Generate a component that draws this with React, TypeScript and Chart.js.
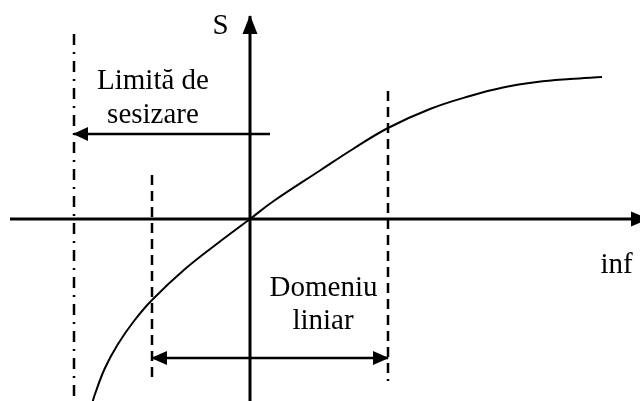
import React, { useEffect, useRef } from "react";
import { Chart, registerables } from "chart.js";

Chart.register(...registerables);

// Sensor characteristic S = f(inf), drawn in a coordinate system whose origin is the axes crossing
const curveX = [-15.8, -15.5, -14.5, -13.2, -11.6, -9.8, -6.5, -3.2, 0, 2.3, 7.0, 10.3, 13.8, 18.0, 22.0, 25.3, 28.7, 32.0, 35.2];
const curveY = [-18.5, -17.5, -14.9, -12.5, -10.2, -8.1, -5.0, -2.4, 0, 1.75, 4.85, 7.0, 9.1, 11.0, 12.3, 13.15, 13.7, 14.0, 14.2];

// Axes
const xAxisX = [-24, 39.8];
const yAxisY = [-18.4, 20.3];

// Sensitivity limit (dash-dot) and linear-range bounds (dashed)
const limitX = -17.6;
const limitY = [18.5, -18.4];
const linLowX = -9.8;
const linLowY = [4.4, -16.4];
const linHighX = 13.8;
const linHighY = [12.8, -16.2];

// Arrows
const limitArrowY = 8.5;
const limitArrowX = [2.0, -17.6];
const rangeArrowY = -13.9;
const rangeArrowX = [-9.8, 13.8];

// Labels
const labelTexts = ["S", "Limită de", "sesizare", "Domeniu", "liniar", "inf"];
const labelX = [-2.95, -9.7, -9.7, 7.35, 7.3, 36.65];
const labelY = [18.5, 13.0, 9.6, -7.7, -11.0, -5.4];

const X_MIN = -25;
const X_MAX = 39;
const Y_MIN = -18.2;
const Y_MAX = 21.9;

const arrowPlugin = {
  id: "arrowHeads",
  afterDatasetsDraw(chart: any) {
    const ctx = chart.ctx;
    chart.data.datasets.forEach((ds: any, i: number) => {
      const meta = chart.getDatasetMeta(i);
      const pts = meta.data;
      if (!pts || pts.length < 2) return;
      const draw = (tip: any, from: any) => {
        const dx = tip.x - from.x;
        const dy = tip.y - from.y;
        const len = Math.hypot(dx, dy) || 1;
        const ux = dx / len;
        const uy = dy / len;
        const L = ds.arrowLen || 16;
        const W = ds.arrowHalf || 7.5;
        const bx = tip.x - ux * L;
        const by = tip.y - uy * L;
        ctx.save();
        ctx.fillStyle = "#000";
        ctx.beginPath();
        ctx.moveTo(tip.x + ux, tip.y + uy);
        ctx.lineTo(bx - uy * W, by + ux * W);
        ctx.lineTo(bx + uy * W, by - ux * W);
        ctx.closePath();
        ctx.fill();
        ctx.restore();
      };
      if (ds.arrowEnd) draw(pts[pts.length - 1], pts[pts.length - 2]);
      if (ds.arrowStart) draw(pts[0], pts[1]);
    });
  },
};

const labelPlugin = {
  id: "diagramLabels",
  afterDraw(chart: any) {
    const ctx = chart.ctx;
    const xs = chart.scales.x;
    const ys = chart.scales.y;
    ctx.save();
    ctx.fillStyle = "#000";
    ctx.font = '29px "Liberation Serif", "Times New Roman", serif';
    ctx.textAlign = "center";
    ctx.textBaseline = "alphabetic";
    labelTexts.forEach((t, i) => {
      ctx.fillText(t, xs.getPixelForValue(labelX[i]), ys.getPixelForValue(labelY[i]));
    });
    ctx.restore();
  },
};

const pts = (xs: number[], ys: number[]) => xs.map((x, i) => ({ x, y: ys[i] }));

export default function App() {
  const ref = useRef<HTMLCanvasElement | null>(null);

  useEffect(() => {
    if (!ref.current) return;
    const base = {
      showLine: true,
      pointRadius: 0,
      pointHoverRadius: 0,
      borderColor: "#000",
      backgroundColor: "#000",
      fill: false,
      clip: false as any,
      tension: 0,
    };
    const chart = new Chart(ref.current, {
      type: "scatter",
      data: {
        datasets: [
          { ...base, label: "x axis", data: pts(xAxisX, [0, 0]), borderWidth: 3, arrowEnd: true, arrowLen: 17, arrowHalf: 7.5 } as any,
          { ...base, label: "y axis", data: pts([0, 0], yAxisY), borderWidth: 3, arrowEnd: true, arrowLen: 18, arrowHalf: 7.5 } as any,
          { ...base, label: "limit", data: pts([limitX, limitX], limitY), borderWidth: 2.5, borderDash: [11, 7, 2, 7] },
          { ...base, label: "lin low", data: pts([linLowX, linLowX], linLowY), borderWidth: 2.5, borderDash: [10, 6] },
          { ...base, label: "lin high", data: pts([linHighX, linHighX], linHighY), borderWidth: 2.5, borderDash: [10, 6] },
          { ...base, label: "limit arrow", data: pts(limitArrowX, [limitArrowY, limitArrowY]), borderWidth: 2.5, arrowEnd: true, arrowLen: 14, arrowHalf: 7 } as any,
          { ...base, label: "range arrow", data: pts(rangeArrowX, [rangeArrowY, rangeArrowY]), borderWidth: 2.5, arrowEnd: true, arrowStart: true, arrowLen: 15, arrowHalf: 7 } as any,
          { ...base, label: "S", data: pts(curveX, curveY), borderWidth: 2, tension: 0.4 } as any,
        ],
      },
      options: {
        animation: false,
        responsive: false,
        maintainAspectRatio: false,
        events: [],
        layout: { padding: 0 },
        plugins: { legend: { display: false }, tooltip: { enabled: false }, title: { display: false } },
        scales: {
          x: { type: "linear", min: X_MIN, max: X_MAX, display: false },
          y: { type: "linear", min: Y_MIN, max: Y_MAX, display: false },
        },
      },
      plugins: [arrowPlugin, labelPlugin],
    });
    return () => chart.destroy();
  }, []);

  return (
    <div style={{ position: "fixed", left: 0, top: 0, width: 640, height: 401, background: "#fff" }}>
      <canvas ref={ref} width={640} height={401} style={{ display: "block", width: 640, height: 401 }} />
    </div>
  );
}
